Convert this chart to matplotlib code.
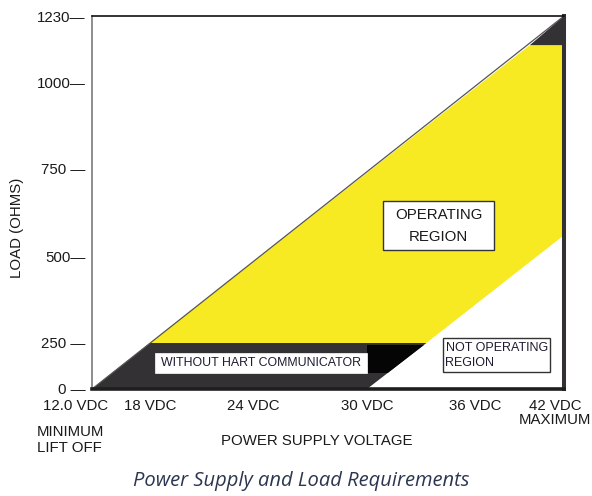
import numpy as np
import matplotlib
matplotlib.use("Agg")
import matplotlib.pyplot as plt
from matplotlib.patches import Rectangle
from matplotlib.transforms import ScaledTranslation

plt.rcParams['font.family'] = ['Liberation Sans', 'DejaVu Sans']

# ---------------- data ----------------
volt_ticks = [12, 18, 24, 30, 36, 42]
volt_labels = ["12.0 VDC", "18 VDC", "24 VDC", "30 VDC", "36 VDC", "42 VDC\nMAXIMUM"]
load_ticks = [0, 250, 500, 750, 1000, 1230]
load_labels = ["0 \u2014", "250 \u2014", "500\u2014", "750 \u2014", "1000\u2014", "1230\u2014"]

# maximum load line (lift-off 12 V -> 1230 ohm at 42 V)
max_line_volt = [12, 42]
max_line_load = [0, 1230]
# HART communicator minimum load band
hart_min_load = 250
hart_min_volt = 18
# right boundary of operating region
min_line_volt = [30, 33.3, 42]
min_line_load = [0, 250, 562]
# top cap of the yellow region
cap_volt = 39.7
cap_load = 1130
# black block inside the HART band
black_load = [87, 239]
black_volt = [30, 31.15, 33.16]

# schematic (non-linear) axis placement, in pixels of the drawing
x_pix = np.array([92, 150, 253, 367, 475, 564], float)
y_pix = np.array([389, 343, 257, 169, 83, 16], float)
x_pos = x_pix - x_pix[0]
y_pos = y_pix[0] - y_pix

W, H = 592, 496
fig = plt.figure(figsize=(W / 100, H / 100), dpi=100)
ax = fig.add_axes([x_pix[0] / W, 1 - y_pix[0] / H,
                   (x_pix[-1] - x_pix[0]) / W, (y_pix[0] - y_pix[-1]) / H])

ax.set_xscale('function', functions=(lambda v: np.interp(v, volt_ticks, x_pos),
                                     lambda p: np.interp(p, x_pos, volt_ticks)))
ax.set_yscale('function', functions=(lambda v: np.interp(v, load_ticks, y_pos),
                                     lambda p: np.interp(p, y_pos, load_ticks)))
ax.set_xlim(volt_ticks[0], volt_ticks[-1])
ax.set_ylim(load_ticks[0], load_ticks[-1])

YEL = '#F7EA22'
DARK = '#333133'

# yellow operating region
ax.fill([hart_min_volt, cap_volt, max_line_volt[1], min_line_volt[2], min_line_volt[1]],
        [hart_min_load, cap_load, cap_load, min_line_load[2], min_line_load[1]],
        color=YEL, lw=0, zorder=1)
# dark HART band
ax.fill([max_line_volt[0], hart_min_volt, min_line_volt[1], min_line_volt[0]],
        [max_line_load[0], hart_min_load, min_line_load[1], min_line_load[0]],
        color=DARK, lw=0, zorder=2)
# black block
ax.fill([black_volt[0], black_volt[0], black_volt[2], black_volt[1]],
        [black_load[0], black_load[1], black_load[1], black_load[0]],
        color='#050505', lw=0, zorder=3)
# top dark triangle
ax.fill([cap_volt, max_line_volt[1], max_line_volt[1]],
        [cap_load, max_line_load[1], cap_load],
        color=DARK, lw=0, zorder=2)
# max load line
ax.plot(max_line_volt, max_line_load, color='#555555', lw=0.9, zorder=4)

# spines
ax.spines['left'].set_color('#7a7a7a'); ax.spines['left'].set_linewidth(1.2)
ax.spines['top'].set_color('#111111'); ax.spines['top'].set_linewidth(1.2)
ax.spines['right'].set_color(DARK); ax.spines['right'].set_linewidth(2.9)
ax.spines['bottom'].set_color('#1e1e1e'); ax.spines['bottom'].set_linewidth(2.6)
for s in ax.spines.values():
    s.set_zorder(5)

ax.set_yticks(load_ticks)
ax.set_yticklabels(load_labels, fontsize=10.8, color='#1a1a1a')
ax.tick_params(axis='y', length=0, pad=4.5)
ax.set_xticks(volt_ticks)
ax.set_xticklabels(volt_labels, fontsize=10.8, color='#1a1a1a', linespacing=0.95)
ax.tick_params(axis='x', length=0, pad=7.5)
labs = ax.get_xticklabels()
labs[0].set_transform(labs[0].get_transform() + ScaledTranslation(-16 / 100, 0, fig.dpi_scale_trans))
labs[-1].set_transform(labs[-1].get_transform() + ScaledTranslation(-9 / 100, 0, fig.dpi_scale_trans))

ax.set_xlabel("POWER SUPPLY VOLTAGE", fontsize=10.8, color='#1a1a1a')
ax.xaxis.set_label_coords((317 - 92) / 472, (389 - 434) / 373)
ax.set_ylabel("LOAD (OHMS)", fontsize=10.8, color='#1a1a1a')
ax.yaxis.set_label_coords((24 - 92) / 472, (389 - 228) / 373)

def fx(px):
    return px / W

def fy(py):
    return 1 - py / H

fig.text(fx(37), fy(440), "MINIMUM\nLIFT OFF", fontsize=10.8, ha='left', va='center',
         color='#1a1a1a', linespacing=1.15)

def box(x0, y0, x1, y1, ec, lw):
    fig.patches.append(Rectangle((fx(x0), fy(y1)), (x1 - x0) / W, (y1 - y0) / H,
                                 transform=fig.transFigure, facecolor='white',
                                 edgecolor=ec, lw=lw, zorder=6))

box(383, 201, 494, 250, '#333333', 1.0)
fig.text(fx(438.5), fy(215), "OPERATING", fontsize=10.8, ha='center', va='center', color='#1a1a1a', zorder=7)
fig.text(fx(438.5), fy(237), "REGION", fontsize=10.8, ha='center', va='center', color='#1a1a1a', zorder=7)

box(443, 338, 550, 372, '#333333', 1.0)
fig.text(fx(445.5), fy(348), "NOT OPERATING", fontsize=9.0, ha='left', va='center', color='#1c1c30', zorder=7)
fig.text(fx(445.5), fy(363), "REGION", fontsize=9.0, ha='left', va='center', color='#1c1c30', zorder=7)

box(155, 353, 367, 373, 'white', 0.5)
fig.text(fx(261), fy(363.5), "WITHOUT HART COMMUNICATOR", fontsize=8.9, ha='center', va='center',
         color='#1c1c30', zorder=7)

fig.text(fx(301), fy(481), "Power Supply and Load Requirements", fontsize=14.5, style='italic',
         family=['Open Sans', 'DejaVu Sans'], ha='center', va='center', color='#2c3650')

fig.savefig("out.png", dpi=100)
